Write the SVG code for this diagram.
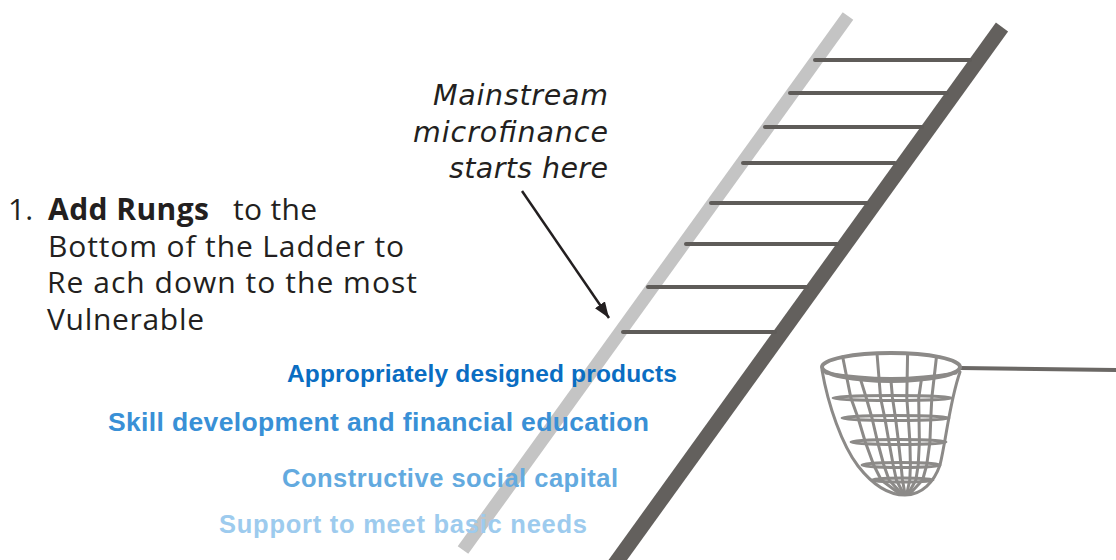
<svg xmlns="http://www.w3.org/2000/svg" width="1116" height="560" viewBox="0 0 1116 560">
  <defs>
    <marker id="arrowhead" viewBox="0 0 16 12" refX="16" refY="6" markerWidth="16" markerHeight="12" markerUnits="userSpaceOnUse" orient="auto">
      <path d="M0,0 L16,6 L0,12 z" fill="#231f20"/>
    </marker>
    <style>
      .rung{stroke:#5f5c59;stroke-width:4;stroke-linecap:round}
      .net{fill:none;stroke:#8c8a88;stroke-width:3;stroke-linejoin:round;stroke-linecap:round}
      .lead{font-family:"Open Sans","Liberation Sans",Arial,sans-serif;font-size:30px;fill:#231f20}
      .note{font-family:"DejaVu Sans","Liberation Sans",sans-serif;font-style:oblique;font-size:28.5px;fill:#231f20}
      .step{font-family:"Liberation Sans",Arial,sans-serif;font-weight:bold}
    </style>
  </defs>
  <rect width="1116" height="560" fill="#ffffff"/>

  <!-- ladder: two rails and eight rungs -->
  <g id="ladder">
    <line x1="848" y1="16" x2="463" y2="550" stroke="#c4c4c4" stroke-width="13"/>
    <line x1="1002" y1="27" x2="612" y2="568" stroke="#63605d" stroke-width="15"/>
    <line class="rung" x1="815" y1="60" x2="970" y2="60"/>
    <line class="rung" x1="790" y1="93" x2="947" y2="93"/>
    <line class="rung" x1="765" y1="127" x2="922" y2="127"/>
    <line class="rung" x1="743" y1="163" x2="895" y2="163"/>
    <line class="rung" x1="711" y1="203" x2="867" y2="203"/>
    <line class="rung" x1="686" y1="244" x2="837" y2="244"/>
    <line class="rung" x1="648" y1="287" x2="807" y2="287"/>
    <line class="rung" x1="623" y1="332" x2="775" y2="332"/>
  </g>

  <!-- safety net with handle -->
  <g id="net">
    <line x1="960" y1="368" x2="1116" y2="370" stroke="#6b6865" stroke-width="4"/>
    <path class="net" d="M822,370 C828,405 842,445 858,466 C872,484 888,495 905,495 C922,495 934,482 940,465 C946,440 950,400 960,372"/>
    <path class="net" d="M826,373 Q891,384 956,373"/>
    <ellipse class="net" cx="892.5" cy="398" rx="59.5" ry="2.5"/>
    <ellipse class="net" cx="895.5" cy="418" rx="53.5" ry="2.5"/>
    <ellipse class="net" cx="898.5" cy="442" rx="47.5" ry="2.5"/>
    <ellipse class="net" cx="901" cy="465" rx="39" ry="2.5"/>
    <ellipse class="net" cx="902.5" cy="480" rx="30.5" ry="2"/>
    <polyline class="net" points="842.7,357 850.9,398 858.1,418 865.3,442 873.7,465 881.2,480 900,494"/>
    <polyline class="net" points="877,353.5 880.6,398 884.8,418 889,442 893.2,465 896.4,480 903.6,494"/>
    <polyline class="net" points="907.6,353.5 906.8,398 908.3,418 909.9,442 910.4,465 909.8,480 906.7,494"/>
    <polyline class="net" points="936.5,356.5 931.8,398 930.8,418 929.9,442 926.7,465 922.6,480 909.6,494"/>
    <polyline class="net" points="860.6,379.6 866.3,398 872,418 877.6,442 883.8,465 889.1,480 902,494"/>
    <polyline class="net" points="891,381 892.5,398 895.5,418 898.5,442 901,465 902.5,480 905,494"/>
    <polyline class="net" points="921.4,379.6 918.7,398 919,418 919.4,442 918.2,465 915.9,480 908,494"/>
    <ellipse cx="891" cy="367" rx="69" ry="14" fill="none" stroke="#8c8a88" stroke-width="4"/>
  </g>

  <!-- callout -->
  <g id="callout">
    <text class="note" x="433" y="105" textLength="175" lengthAdjust="spacing">Mainstream</text>
    <text class="note" x="413" y="142" textLength="195" lengthAdjust="spacing">microfinance</text>
    <text class="note" x="449" y="178" textLength="159" lengthAdjust="spacing">starts here</text>
  </g>

  <g id="connectors">
    <line x1="522" y1="191" x2="609" y2="318" stroke="#231f20" stroke-width="2.5" marker-end="url(#arrowhead)"/>
  </g>

  <!-- heading -->
  <g id="heading">
    <text class="lead" x="8" y="220">1.</text>
    <text class="lead" x="48" y="220" font-weight="bold" textLength="161" lengthAdjust="spacing">Add Rungs</text>
    <text class="lead" x="233" y="220" textLength="84" lengthAdjust="spacing">to the</text>
    <text class="lead" x="48" y="257" textLength="356" lengthAdjust="spacing">Bottom of the Ladder to</text>
    <text class="lead" x="47" y="293" textLength="370" lengthAdjust="spacing">Re ach down to the most</text>
    <text class="lead" x="47" y="330" textLength="157" lengthAdjust="spacing">Vulnerable</text>
  </g>

  <!-- rungs added below -->
  <g id="rung-labels" class="step">
    <text x="287" y="382" font-size="24.5" textLength="390" lengthAdjust="spacing" fill="#0a6dc2">Appropriately designed products</text>
    <text x="108" y="431" font-size="26.5" textLength="541" lengthAdjust="spacing" fill="#3990d6">Skill development and financial education</text>
    <text x="282" y="487" font-size="25.5" textLength="336" lengthAdjust="spacing" fill="#63aadf">Constructive social capital</text>
    <text x="219" y="533" font-size="25.5" textLength="368" lengthAdjust="spacing" fill="#9dcbee">Support to meet basic needs</text>
  </g>
</svg>
